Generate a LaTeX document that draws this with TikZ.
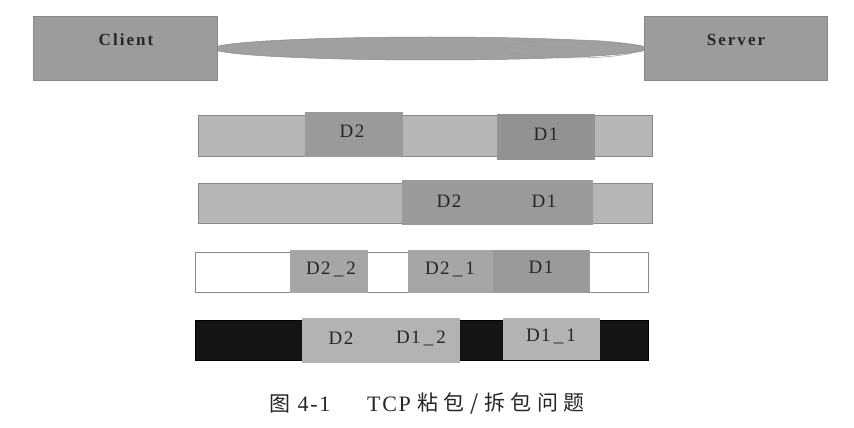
\documentclass[tikz,border=0pt]{standalone}
\usepackage{fontspec}
\setmainfont{Liberation Serif}
\newfontfamily\cjk{Noto Sans CJK SC}
\newfontfamily\cjkspaced[LetterSpace=26]{Noto Sans CJK SC}
\usetikzlibrary{shapes.geometric}
\definecolor{boxgray}{HTML}{9C9C9C}
\definecolor{linkgray}{HTML}{A0A0A0}
\definecolor{barlight}{HTML}{B6B6B6}
\definecolor{blockdark}{HTML}{9A9A9A}
\definecolor{blockmid}{HTML}{A6A6A6}
\definecolor{blocklight}{HTML}{B3B3B3}
\definecolor{edgegray}{HTML}{8A8A8A}
\tikzset{
  endbox/.style={rectangle, fill=boxgray, draw=edgegray, line width=0.8pt, inner sep=0pt,
    minimum width=184pt, minimum height=64pt},
  endlbl/.style={inner sep=0pt, text=black!85,
    font=\fontsize{17}{17}\selectfont\bfseries\addfontfeatures{LetterSpace=12}},
  bar/.style={rectangle, draw=edgegray, line width=0.8pt, inner sep=0pt, minimum height=41pt},
  block/.style={rectangle, inner sep=0pt, minimum height=45pt},
  lbl/.style={inner sep=0pt, text=black!85,
    font=\fontsize{19}{19}\selectfont\addfontfeatures{LetterSpace=7}},
  caplbl/.style={inner sep=0pt, text=black!85, font=\fontsize{22}{22}\selectfont\addfontfeatures{LetterSpace=8}},
  capcjk/.style={inner sep=0pt, text=black!85, font=\fontsize{21}{21}\selectfont},
}
\begin{document}
\begin{tikzpicture}[x=1pt,y=-1pt]
\useasboundingbox (0,0) rectangle (854,428);
\fill[white] (0,0) rectangle (854,428);
% link between client and server
\node[ellipse, fill=linkgray, draw=edgegray, line width=0.5pt, inner sep=0pt,
      minimum width=434pt, minimum height=23pt] (link) at (430.5,48.5) {};
\node[ellipse, draw=gray!80, line width=0.5pt, inner sep=0pt,
      minimum width=134pt, minimum height=18pt] (inner) at (572,49) {};
\node[endbox] (client) at (125,48) {};
\node[endbox, minimum width=183pt] (server) at (735.5,48) {};
\node[endlbl] (clientlbl) at (126,40) {Client};
\node[endlbl] (serverlbl) at (736,40) {Server};

% row 1
\node[bar, fill=barlight, minimum width=454pt] (r1) at (425,135.5) {};
\node[block, fill=blockdark, minimum width=98pt] (r1d2) at (354,134.5) {};
\node[block, fill=blockdark!95!black, minimum width=98pt, minimum height=46pt] (r1d1) at (546,137) {};
\node[lbl] (t1d2) at (352,131) {D2};
\node[lbl] (t1d1) at (546,134) {D1};

% row 2
\node[bar, fill=barlight, minimum width=454pt, minimum height=40pt] (r2) at (425,203) {};
\node[block, fill=blockdark, minimum width=191pt] (r2b) at (497.5,202.5) {};
\node[lbl] (t2d2) at (449,201) {D2};
\node[lbl] (t2d1) at (544,201) {D1};

% row 3
\node[bar, fill=white, minimum width=453pt, minimum height=40pt] (r3) at (421.5,272) {};
\node[block, fill=blockmid, minimum width=78pt, minimum height=43pt] (r3a) at (329,271.5) {};
\node[block, fill=blockmid, minimum width=86pt, minimum height=43pt] (r3b) at (450.5,271.5) {};
\node[block, fill=blockdark, minimum width=97pt, minimum height=43pt] (r3c) at (541.5,271.5) {};
\node[lbl] (t3a) at (331,269) {D2\,\_\,2};
\node[lbl] (t3b) at (450,269) {D2\,\_\,1};
\node[lbl] (t3c) at (541,267) {D1};

% row 4
\node[bar, fill=black!92, draw=black, minimum width=453pt, minimum height=40pt] (r4) at (421.5,340) {};
\node[block, fill=blocklight, minimum width=158pt] (r4a) at (381,340.5) {};
\node[block, fill=blocklight, minimum width=97pt, minimum height=42pt] (r4b) at (551.5,339) {};
\node[lbl] (t4a) at (341,338) {D2};
\node[lbl] (t4b) at (421,338) {D1\,\_\,2};
\node[lbl] (t4c) at (551,336) {D1\,\_\,1};

% caption
\node[capcjk] (capfig) at (280,404) {\cjk 图};
\node[caplbl] (capnum) at (314,404) {4-1};
\node[caplbl] (captcp) at (389,404) {TCP};
\node[capcjk] (captext) at (501,404) {\cjkspaced 粘包/拆包问题};
\end{tikzpicture}
\end{document}
